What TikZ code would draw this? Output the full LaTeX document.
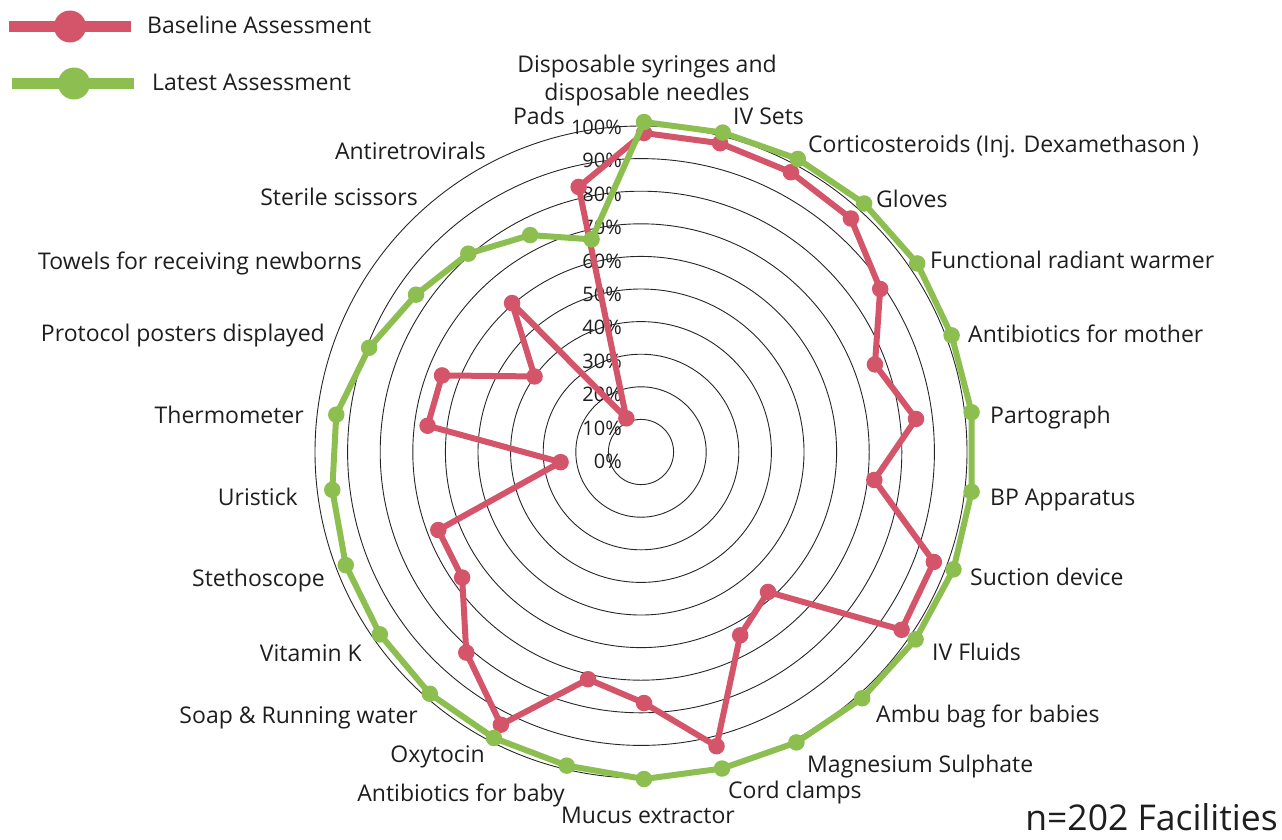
\documentclass[tikz,border=0pt]{standalone}
\usepackage{fontspec}
\setmainfont{Open Sans}
\definecolor{basered}{RGB}{212,84,106}
\definecolor{latestgreen}{RGB}{141,191,80}
\definecolor{txt}{RGB}{30,30,30}
\begin{document}
\begin{tikzpicture}[x=1pt,y=-1pt,
  ring/.style={draw=black!85, line width=0.9pt},
  redline/.style={draw=basered, line width=6pt, line join=round},
  greenline/.style={draw=latestgreen, line width=6pt, line join=round},
  reddot/.style={circle, fill=basered, inner sep=0pt, minimum size=16.5pt},
  greendot/.style={circle, fill=latestgreen, inner sep=0pt, minimum size=16.5pt},
  lab/.style={font=\fontsize{23}{27}\selectfont, text=txt, inner sep=0pt},
  labw/.style={lab, anchor=base west},
  labe/.style={lab, anchor=base east},
  ticklab/.style={font=\fontsize{20}{24}\selectfont, text=txt, inner sep=0pt, anchor=base east}]
\useasboundingbox (0,0) rectangle (1282,839);
\coordinate (C) at (644,452);
\coordinate (RC) at (641,452);
% rings
\foreach \k in {1,...,10}{
  \draw[ring] (RC) circle[radius={32.6*\k}];
}
% tick labels
\foreach \k in {0,...,10}{
  \pgfmathtruncatemacro{\pc}{10*\k}
  \node[ticklab] (t\k) at (622,{468.5-33.4*\k}) {\pc\%};
}
% data
\def\redvals{319,318,316,312,287,247,274,232,310,313,187,207,303,251,234,308,268,221,220,84,218,216,133,199,38,273}
\def\greenvals{330,329,331,332,332,329,330,330,331,330,329,328,326,327,323,323,323,321,319,314,310,294,277,265,245,219}
\foreach \r [count=\i from 0] in \redvals {
  \coordinate (r\i) at ({644+\r*sin(\i*360/26)},{452-\r*cos(\i*360/26)});
}
\foreach \r [count=\i from 0] in \greenvals {
  \coordinate (g\i) at ({644+\r*sin(\i*360/26)},{452-\r*cos(\i*360/26)});
}
\draw[redline] (r0) \foreach \i in {1,...,25}{ -- (r\i)} -- cycle;
\foreach \i in {0,...,25}{ \node[reddot] (rd\i) at (r\i) {}; }
\draw[greenline] (g0) \foreach \i in {1,...,25}{ -- (g\i)} -- cycle;
\foreach \i in {0,...,25}{ \node[greendot] (gd\i) at (g\i) {}; }
% category labels
\node[lab, anchor=base] (c0a) at (647,72) {Disposable syringes and};
\node[lab, anchor=base] (c0b) at (647,100) {disposable needles};
\node[labw] (c1) at (733,124) {IV Sets};
\node[labw] (c2) at (808,152) {Corticosteroids (Inj. Dexamethason )};
\node[labw] (c3) at (876,207) {Gloves};
\node[labw] (c4) at (930,268) {Functional radiant warmer};
\node[labw] (c5) at (968,342) {Antibiotics for mother};
\node[labw] (c6) at (990,423) {Partograph};
\node[labw] (c7) at (990,505) {BP Apparatus};
\node[labw] (c8) at (970,585) {Suction device};
\node[labw] (c9) at (932,660) {IV Fluids};
\node[labw] (c10) at (876,722) {Ambu bag for babies};
\node[labw] (c11) at (807,772) {Magnesium Sulphate};
\node[labw] (c12) at (728,798) {Cord clamps};
\node[lab, anchor=base] (c13) at (648,823) {Mucus extractor};
\node[labe] (c14) at (565,801) {Antibiotics for baby};
\node[labe] (c15) at (485,762) {Oxytocin};
\node[labe] (c16) at (418,723) {Soap \& Running water};
\node[labe] (c17) at (362,661) {Vitamin K};
\node[labe] (c18) at (325,586) {Stethoscope};
\node[labe] (c19) at (298,505) {Uristick};
\node[labe] (c20) at (304,423) {Thermometer};
\node[labe] (c21) at (325,341) {Protocol posters displayed};
\node[labe] (c22) at (362,269) {Towels for receiving newborns};
\node[labe] (c23) at (418,205) {Sterile scissors};
\node[labe] (c24) at (486,159) {Antiretrovirals};
\node[labe] (c25) at (565,124) {Pads};
% legend
\coordinate (lr1) at (9,26.5); \coordinate (lr2) at (131,26.5);
\draw[draw=basered, line width=10.7pt] (lr1) -- (lr2);
\node[circle, fill=basered, inner sep=0pt, minimum size=32pt] (lrd) at (70,26.5) {};
\node[labw] (lrt) at (147,33) {Baseline Assessment};
\coordinate (lg1) at (12,83.5); \coordinate (lg2) at (134,83.5);
\draw[draw=latestgreen, line width=10.7pt] (lg1) -- (lg2);
\node[circle, fill=latestgreen, inner sep=0pt, minimum size=32pt] (lgd) at (74,83.5) {};
\node[labw] (lgt) at (152,90) {Latest Assessment};
% footnote
\node[font=\fontsize{35.5}{40}\selectfont, text=txt, inner sep=0pt, anchor=base east] (nf) at (1278,830) {n=202 Facilities};
\end{tikzpicture}
\end{document}
